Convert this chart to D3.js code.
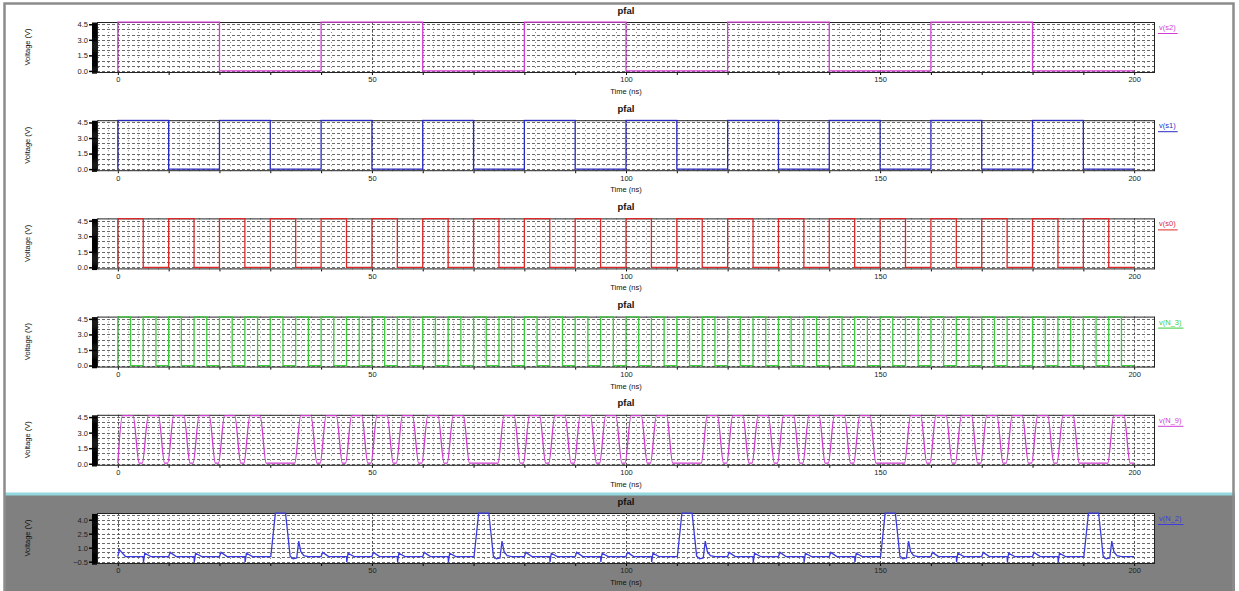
<!DOCTYPE html>
<html>
<head>
<meta charset="utf-8">
<script src="https://cdn.jsdelivr.net/npm/d3@7"></script>
<style>
body { margin: 0; background: #fff; }
text { font-family: "Liberation Sans", Arial, sans-serif; }
</style>
</head>
<body>
<script>
var W = 1239, H = 591;

// ---- data ----
var timeTicks = [0, 50, 100, 150, 200];
var voltTicks = [0, 1.5, 3.0, 4.5];
var voltTicksN2 = [-0.5, 1.0, 2.5, 4.0];
var traceNames = ["v(s2)", "v(s1)", "v(s0)", "v(N_3)", "v(N_9)", "v(N_2)"];
var traceColors = ["#d23cd2", "#2a2ac4", "#dc2828", "#3ccc3c", "#d23cd2", "#3c3ce0"];

// square waves: [time ns, volts]
var s2 = [[0,0],[0,4.7],[20,0],[40,4.7],[60,0],[80,4.7],[100,0],[120,4.7],[140,0],[160,4.7],[180,0],[200,0]];
var s1 = [[0,0],[0,4.7],[10,0],[20,4.7],[30,0],[40,4.7],[50,0],[60,4.7],[70,0],[80,4.7],[90,0],[100,4.7],
          [110,0],[120,4.7],[130,0],[140,4.7],[150,0],[160,4.7],[170,0],[180,4.7],[190,0],[200,0]];
var s0 = [[0,0],[0,4.7],[5,0],[10,4.7],[15,0],[20,4.7],[25,0],[30,4.7],[35,0],[40,4.7],[45,0],[50,4.7],
          [55,0],[60,4.7],[65,0],[70,4.7],[75,0],[80,4.7],[85,0],[90,4.7],[95,0],[100,4.7],[105,0],[110,4.7],
          [115,0],[120,4.7],[125,0],[130,4.7],[135,0],[140,4.7],[145,0],[150,4.7],[155,0],[160,4.7],[165,0],
          [170,4.7],[175,0],[180,4.7],[185,0],[190,4.7],[195,0],[200,0]];
var n3 = [[0,0],[0,4.7],[2.5,0],[5,4.7],[7.5,0],[10,4.7],[12.5,0],[15,4.7],[17.5,0],[20,4.7],[22.5,0],[25,4.7],
          [27.5,0],[30,4.7],[32.5,0],[35,4.7],[37.5,0],[40,4.7],[42.5,0],[45,4.7],[47.5,0],[50,4.7],[52.5,0],
          [55,4.7],[57.5,0],[60,4.7],[62.5,0],[65,4.7],[67.5,0],[70,4.7],[72.5,0],[75,4.7],[77.5,0],[80,4.7],
          [82.5,0],[85,4.7],[87.5,0],[90,4.7],[92.5,0],[95,4.7],[97.5,0],[100,4.7],[102.5,0],[105,4.7],[107.5,0],
          [110,4.7],[112.5,0],[115,4.7],[117.5,0],[120,4.7],[122.5,0],[125,4.7],[127.5,0],[130,4.7],[132.5,0],
          [135,4.7],[137.5,0],[140,4.7],[142.5,0],[145,4.7],[147.5,0],[150,4.7],[152.5,0],[155,4.7],[157.5,0],
          [160,4.7],[162.5,0],[165,4.7],[167.5,0],[170,4.7],[172.5,0],[175,4.7],[177.5,0],[180,4.7],[182.5,0],
          [185,4.7],[187.5,0],[190,4.7],[192.5,0],[195,4.7],[197.5,0],[200,0]];

// rounded pulses (one missing every 40 ns)
var n9 = [[0,0.05],[0.9,4.65],[3,4.65],[4.2,0.05],[4.8,0.05],[6,4.65],[8,4.65],[9.2,0.05],
          [9.8,0.05],[11,4.65],[13,4.65],[14.2,0.05],[14.8,0.05],[16,4.65],[18,4.65],[19.2,0.05],
          [19.8,0.05],[21,4.65],[23,4.65],[24.2,0.05],[24.8,0.05],[26,4.65],[28,4.65],[29.2,0.05],
          [34.8,0.05],[36,4.65],[38,4.65],[39.2,0.05],
          [39.8,0.05],[41,4.65],[43,4.65],[44.2,0.05],[44.8,0.05],[46,4.65],[48,4.65],[49.2,0.05],
          [49.8,0.05],[51,4.65],[53,4.65],[54.2,0.05],[54.8,0.05],[56,4.65],[58,4.65],[59.2,0.05],
          [59.8,0.05],[61,4.65],[63,4.65],[64.2,0.05],[64.8,0.05],[66,4.65],[68,4.65],[69.2,0.05],
          [74.8,0.05],[76,4.65],[78,4.65],[79.2,0.05],
          [79.8,0.05],[81,4.65],[83,4.65],[84.2,0.05],[84.8,0.05],[86,4.65],[88,4.65],[89.2,0.05],
          [89.8,0.05],[91,4.65],[93,4.65],[94.2,0.05],[94.8,0.05],[96,4.65],[98,4.65],[99.2,0.05],
          [99.8,0.05],[101,4.65],[103,4.65],[104.2,0.05],[104.8,0.05],[106,4.65],[108,4.65],[109.2,0.05],
          [114.8,0.05],[116,4.65],[118,4.65],[119.2,0.05],
          [119.8,0.05],[121,4.65],[123,4.65],[124.2,0.05],[124.8,0.05],[126,4.65],[128,4.65],[129.2,0.05],
          [129.8,0.05],[131,4.65],[133,4.65],[134.2,0.05],[134.8,0.05],[136,4.65],[138,4.65],[139.2,0.05],
          [139.8,0.05],[141,4.65],[143,4.65],[144.2,0.05],[144.8,0.05],[146,4.65],[148,4.65],[149.2,0.05],
          [154.8,0.05],[156,4.65],[158,4.65],[159.2,0.05],
          [159.8,0.05],[161,4.65],[163,4.65],[164.2,0.05],[164.8,0.05],[166,4.65],[168,4.65],[169.2,0.05],
          [169.8,0.05],[171,4.65],[173,4.65],[174.2,0.05],[174.8,0.05],[176,4.65],[178,4.65],[179.2,0.05],
          [179.8,0.05],[181,4.65],[183,4.65],[184.2,0.05],[184.8,0.05],[186,4.65],[188,4.65],[189.2,0.05],
          [194.8,0.05],[196,4.65],[198,4.65],[199.2,0.05],[200,0.05]];

// glitches every 5 ns, a wide pulse every 40 ns
var n2 = [[0,0.05],[0.3,0.8],[1.5,0.05],[5,0.05],[5.05,-0.55],[5.3,0.4],[6.5,0.05],
          [10,0.05],[10.3,0.5],[11.5,0.05],[15,0.05],[15.05,-0.55],[15.3,0.4],[16.5,0.05],
          [20,0.05],[20.3,0.5],[21.5,0.05],[25,0.05],[25.05,-0.55],[25.3,0.4],[26.5,0.05],
          [30.1,0.05],[30.6,2.6],[31,4.7],[33,4.7],[33.5,2.2],[33.9,0.1],[34.5,-0.2],[35.2,-0.1],
          [35.6,1.7],[36,0.6],[36.6,0.15],[37.5,0.05],
          [40,0.05],[40.3,0.5],[41.5,0.05],[45,0.05],[45.05,-0.55],[45.3,0.4],[46.5,0.05],
          [50,0.05],[50.3,0.5],[51.5,0.05],[55,0.05],[55.05,-0.55],[55.3,0.4],[56.5,0.05],
          [60,0.05],[60.3,0.5],[61.5,0.05],[65,0.05],[65.05,-0.55],[65.3,0.4],[66.5,0.05],
          [70.1,0.05],[70.6,2.6],[71,4.7],[73,4.7],[73.5,2.2],[73.9,0.1],[74.5,-0.2],[75.2,-0.1],
          [75.6,1.7],[76,0.6],[76.6,0.15],[77.5,0.05],
          [80,0.05],[80.3,0.5],[81.5,0.05],[85,0.05],[85.05,-0.55],[85.3,0.4],[86.5,0.05],
          [90,0.05],[90.3,0.5],[91.5,0.05],[95,0.05],[95.05,-0.55],[95.3,0.4],[96.5,0.05],
          [100,0.05],[100.3,0.5],[101.5,0.05],[105,0.05],[105.05,-0.55],[105.3,0.4],[106.5,0.05],
          [110.1,0.05],[110.6,2.6],[111,4.7],[113,4.7],[113.5,2.2],[113.9,0.1],[114.5,-0.2],[115.2,-0.1],
          [115.6,1.7],[116,0.6],[116.6,0.15],[117.5,0.05],
          [120,0.05],[120.3,0.5],[121.5,0.05],[125,0.05],[125.05,-0.55],[125.3,0.4],[126.5,0.05],
          [130,0.05],[130.3,0.5],[131.5,0.05],[135,0.05],[135.05,-0.55],[135.3,0.4],[136.5,0.05],
          [140,0.05],[140.3,0.5],[141.5,0.05],[145,0.05],[145.05,-0.55],[145.3,0.4],[146.5,0.05],
          [150.1,0.05],[150.6,2.6],[151,4.7],[153,4.7],[153.5,2.2],[153.9,0.1],[154.5,-0.2],[155.2,-0.1],
          [155.6,1.7],[156,0.6],[156.6,0.15],[157.5,0.05],
          [160,0.05],[160.3,0.5],[161.5,0.05],[165,0.05],[165.05,-0.55],[165.3,0.4],[166.5,0.05],
          [170,0.05],[170.3,0.5],[171.5,0.05],[175,0.05],[175.05,-0.55],[175.3,0.4],[176.5,0.05],
          [180,0.05],[180.3,0.5],[181.5,0.05],[185,0.05],[185.05,-0.55],[185.3,0.4],[186.5,0.05],
          [190.1,0.05],[190.6,2.6],[191,4.7],[193,4.7],[193.5,2.2],[193.9,0.1],[194.5,-0.2],[195.2,-0.1],
          [195.6,1.7],[196,0.6],[196.6,0.15],[197.5,0.05],[200,0.05]];

var traces = [s2, s1, s0, n3, n9, n2];

// ---- drawing ----
var left = 97, right = 1155, ph = 51;
var svg = d3.select("body").append("svg")
    .attr("width", W)
    .attr("height", H);

// window frame + the selected (grey) bottom pane
svg.append("rect").attr("x", 5).attr("y", 495).attr("width", 1230).attr("height", 96).attr("fill", "#808080");
svg.append("rect").attr("x", 5).attr("y", 492.5).attr("width", 1230).attr("height", 3).attr("fill", "#93d8de");
svg.append("path").attr("d", "M4.5,591 V3.5 H1233.5 V591")
    .attr("fill", "none").attr("stroke", "#8c8c8c").attr("stroke-width", 2.5);

var x = d3.scaleLinear().domain([-4.1, 204.1]).range([left, right]);

traces.forEach(function(data, i) {
    var top = 22 + i * 98.2;
    var isN2 = (i == 5);
    var lo = isN2 ? -0.75 : -0.2;
    var y = d3.scaleLinear().domain([lo, 4.72]).range([top + ph, top]);
    var g = svg.append("g");

    g.append("rect").attr("x", left).attr("y", top).attr("width", right - left).attr("height", ph).attr("fill", "#fff");

    // dotted grid
    g.selectAll(".vg").data(d3.range(-4, 205, 2)).enter().append("line")
        .attr("x1", function(d){ return Math.round(x(d)) + 0.5; })
        .attr("x2", function(d){ return Math.round(x(d)) + 0.5; })
        .attr("y1", top).attr("y2", top + ph)
        .attr("stroke", "#8a8a8a").attr("stroke-dasharray", "1,4");
    g.selectAll(".hg").data(d3.range(isN2 ? -0.5 : 0, 4.6, 0.5)).enter().append("line")
        .attr("x1", left).attr("x2", right)
        .attr("y1", function(d){ return Math.round(y(d)) + 0.5; })
        .attr("y2", function(d){ return Math.round(y(d)) + 0.5; })
        .attr("stroke", "#6a6a6a").attr("stroke-dasharray", "3,2");
    g.selectAll(".mg").data(timeTicks).enter().append("line")
        .attr("x1", function(d){ return Math.round(x(d)) + 0.5; })
        .attr("x2", function(d){ return Math.round(x(d)) + 0.5; })
        .attr("y1", top).attr("y2", top + ph)
        .attr("stroke", "#555").attr("stroke-dasharray", "2,2");

    // frame of plot
    g.append("rect").attr("x", left + 0.5).attr("y", top + 0.5).attr("width", right - left - 1).attr("height", ph - 1)
        .attr("fill", "none").attr("stroke", "#222").attr("stroke-width", 1);

    // trace, on top of the frame
    g.append("clipPath").attr("id", "clip" + i)
        .append("rect").attr("x", left).attr("y", top - 1).attr("width", right - left).attr("height", ph + 2);
    var line = d3.line()
        .x(function(d){ return x(d[0]); })
        .y(function(d){ return y(d[1]); })
        .curve(i < 4 ? d3.curveStepAfter : (i == 4 ? d3.curveMonotoneX : d3.curveLinear));
    g.append("path").datum(data)
        .attr("d", line)
        .attr("clip-path", "url(#clip" + i + ")")
        .attr("fill", "none")
        .attr("stroke", traceColors[i])
        .attr("stroke-width", 1.3);

    // y axis: dense minor ticks look like a black bar
    var yMinor = g.append("g").attr("transform", "translate(" + left + ",0)")
        .call(d3.axisLeft(y).tickValues(d3.range(lo + 0.05, 4.7, 0.1)).tickSize(5).tickFormat(""));
    yMinor.select(".domain").remove();
    yMinor.selectAll("line").attr("stroke", "#000").attr("stroke-width", 1.4);
    var yAxis = g.append("g").attr("transform", "translate(" + left + ",0)")
        .call(d3.axisLeft(y).tickValues(isN2 ? voltTicksN2 : voltTicks).tickSize(8).tickPadding(1).tickFormat(d3.format(".1f")));
    yAxis.select(".domain").remove();
    yAxis.selectAll("text").attr("font-size", 7.5).attr("fill", "#222");
    yAxis.selectAll("line").attr("stroke-width", 1.5);

    // x axis
    var xMinor = g.append("g").attr("transform", "translate(0," + (top + ph) + ")")
        .call(d3.axisBottom(x).tickValues(d3.range(0, 201, 10)).tickSize(2).tickFormat(""));
    xMinor.select(".domain").remove();
    var xAxis = g.append("g").attr("transform", "translate(0," + (top + ph) + ")")
        .call(d3.axisBottom(x).tickValues(timeTicks).tickSize(0).tickPadding(4));
    xAxis.select(".domain").remove();
    xAxis.selectAll("text").attr("font-size", 7.5).attr("fill", "#222");

    // titles
    g.append("text").text("pfal")
        .attr("x", 626).attr("y", top - 8.5)
        .attr("text-anchor", "middle").attr("font-size", 9.5).attr("font-weight", "bold").attr("fill", "#111");
    g.append("text").text("Time (ns)")
        .attr("x", 626).attr("y", top + 72)
        .attr("text-anchor", "middle").attr("font-size", 7.5).attr("fill", "#111");
    g.append("text").text("Voltage (V)")
        .attr("transform", "translate(29.5," + (top + 25) + ") rotate(-90)")
        .attr("text-anchor", "middle").attr("font-size", 7.5).attr("fill", "#111");

    // legend
    var lab = g.append("text").text(traceNames[i])
        .attr("x", 1159).attr("y", top + 8)
        .attr("font-size", 7.5).attr("fill", traceColors[i]);
    var lw = lab.node().getComputedTextLength();
    g.append("line")
        .attr("x1", 1158).attr("x2", 1161 + lw)
        .attr("y1", top + 11.5).attr("y2", top + 11.5)
        .attr("stroke", traceColors[i]).attr("stroke-width", 1);
});
</script>
</body>
</html>
